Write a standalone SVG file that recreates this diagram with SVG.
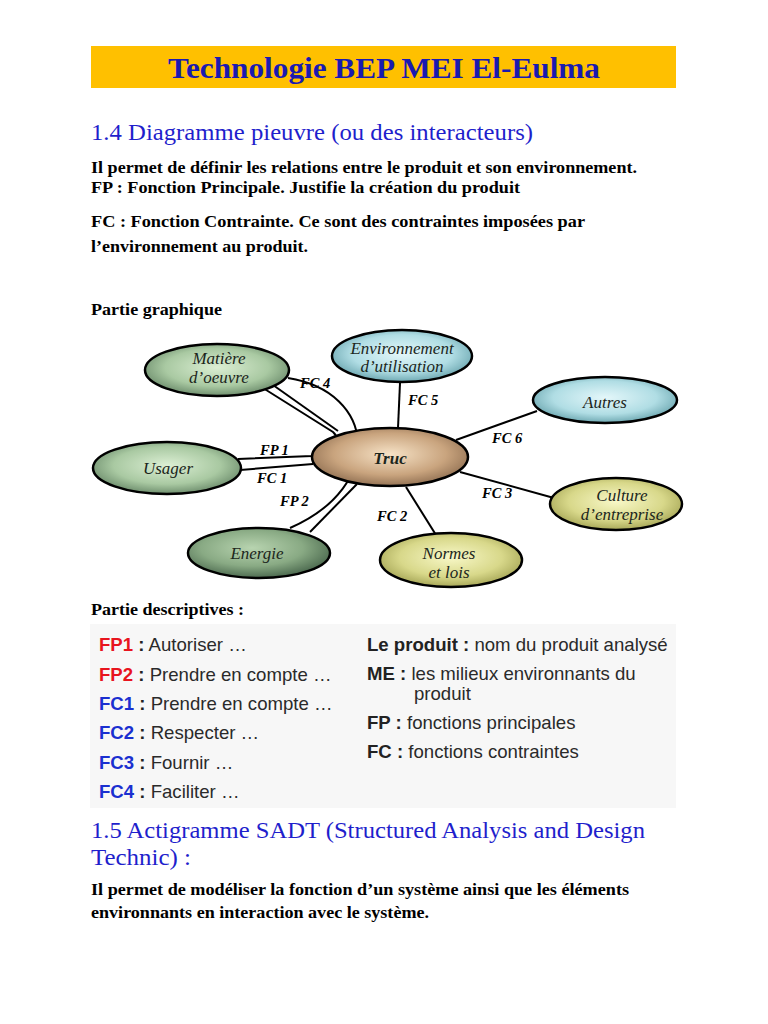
<svg xmlns="http://www.w3.org/2000/svg" width="768" height="1024" viewBox="0 0 768 1024">
<defs>
<radialGradient id="gGreen" cx="0.5" cy="0.45" r="0.6"><stop offset="0" stop-color="#dcefd4"/><stop offset="0.6" stop-color="#a9c9a2"/><stop offset="1" stop-color="#5f7f60"/></radialGradient>
<radialGradient id="gGreenD" cx="0.45" cy="0.4" r="0.6"><stop offset="0" stop-color="#b8d4b0"/><stop offset="0.6" stop-color="#89aa84"/><stop offset="1" stop-color="#4d6b50"/></radialGradient>
<radialGradient id="gTeal" cx="0.5" cy="0.45" r="0.6"><stop offset="0" stop-color="#e4f7fa"/><stop offset="0.6" stop-color="#b0dde4"/><stop offset="1" stop-color="#5c9aa4"/></radialGradient>
<radialGradient id="gBrown" cx="0.5" cy="0.45" r="0.6"><stop offset="0" stop-color="#f6e2c6"/><stop offset="0.6" stop-color="#c9a47e"/><stop offset="1" stop-color="#86664a"/></radialGradient>
<radialGradient id="gOlive" cx="0.5" cy="0.45" r="0.6"><stop offset="0" stop-color="#f8f8c8"/><stop offset="0.6" stop-color="#d8d88a"/><stop offset="1" stop-color="#9c9c4c"/></radialGradient>
</defs>
<style>
.body{font-family:"Liberation Serif",serif;font-weight:bold;font-size:17px;fill:#000}
.h{font-family:"Liberation Serif",serif;font-size:23px;fill:#1f1fcc}
.node{stroke:#000;stroke-width:2.5}
.nl{font-family:"Liberation Serif",serif;font-style:italic;font-size:17px;fill:#1c261c;text-anchor:middle}
.cl{font-family:"Liberation Serif",serif;font-style:italic;font-weight:bold;font-size:14.5px;fill:#000}
.conn{fill:none;stroke:#000;stroke-width:2}
.d{font-family:"Liberation Sans",Arial,sans-serif;font-size:18.6px;fill:#2a2a2a}
.red{fill:#e8141e;font-weight:bold}
.blue{fill:#1a2fd0;font-weight:bold}
.bk{fill:#222;font-weight:bold}
</style>
<rect x="0" y="0" width="768" height="1024" fill="#fff"/>
<rect x="91" y="46" width="585" height="42" fill="#ffc000"/>
<text x="384" y="78" text-anchor="middle" font-family="Liberation Serif,serif" font-weight="bold" font-size="30" fill="#1a1ab0" textLength="432" lengthAdjust="spacingAndGlyphs">Technologie BEP MEI El-Eulma</text>
<text class="h" x="91" y="140" textLength="442" lengthAdjust="spacingAndGlyphs">1.4 Diagramme pieuvre (ou des interacteurs)</text>
<text class="body" x="91" y="173" textLength="546" lengthAdjust="spacingAndGlyphs">Il permet de définir les relations entre le produit et son environnement.</text>
<text class="body" x="91" y="193" textLength="429" lengthAdjust="spacingAndGlyphs">FP : Fonction Principale. Justifie la création du produit</text>
<text class="body" x="91" y="227" textLength="494" lengthAdjust="spacingAndGlyphs">FC : Fonction Contrainte. Ce sont des  contraintes imposées  par</text>
<text class="body" x="91" y="252" textLength="217" lengthAdjust="spacingAndGlyphs">l’environnement au produit.</text>
<text class="body" x="91" y="315" textLength="131" lengthAdjust="spacingAndGlyphs">Partie graphique</text>

<g id="connectors">
<path class="conn" d="M238,459 L312,456 C332,452 342,440 333,432 L263,388"/>
<path class="conn" d="M273,385 L338,431"/>
<path class="conn" d="M240,470 L313,464"/>
<path class="conn" d="M288,378 C376,392 386,486 290,528"/>
<path class="conn" d="M310,532 L357,484"/>
<path class="conn" d="M400,383 L398,428"/>
<path class="conn" d="M456,440 L537,411"/>
<path class="conn" d="M460,472 L554,498"/>
<path class="conn" d="M406,487 L436,535"/>
<text class="cl" x="300" y="388">FC 4</text>
<text class="cl" x="408" y="405">FC 5</text>
<text class="cl" x="492" y="443">FC 6</text>
<text class="cl" x="482" y="498">FC 3</text>
<text class="cl" x="377" y="521">FC 2</text>
<text class="cl" x="260" y="455">FP 1</text>
<text class="cl" x="257" y="483">FC 1</text>
<text class="cl" x="280" y="506">FP 2</text>
</g>

<g id="matiere">
<ellipse class="node" cx="217" cy="370" rx="72" ry="26" fill="url(#gGreen)"/>
<text class="nl" x="219" y="364">Matière</text>
<text class="nl" x="219" y="383">d’oeuvre</text>
</g>
<g id="environnement">
<ellipse class="node" cx="402" cy="356" rx="70" ry="26" fill="url(#gTeal)"/>
<text class="nl" x="402" y="354">Environnement</text>
<text class="nl" x="402" y="372">d’utilisation</text>
</g>
<g id="autres">
<ellipse class="node" cx="605" cy="400" rx="72" ry="23" fill="url(#gTeal)"/>
<text class="nl" x="605" y="408" font-size="21">Autres</text>
</g>
<g id="usager">
<ellipse class="node" cx="167" cy="468" rx="74" ry="26" fill="url(#gGreen)"/>
<text class="nl" x="168" y="474" font-size="21">Usager</text>
</g>
<g id="truc">
<ellipse class="node" cx="390" cy="457" rx="78" ry="29" fill="url(#gBrown)"/>
<text class="nl" x="390" y="464" font-size="20" font-weight="bold" fill="#1a1008">Truc</text>
</g>
<g id="culture">
<ellipse class="node" cx="616" cy="504" rx="66" ry="26" fill="url(#gOlive)"/>
<text class="nl" x="622" y="501">Culture</text>
<text class="nl" x="622" y="520">d’entreprise</text>
</g>
<g id="energie">
<ellipse class="node" cx="259" cy="553" rx="71" ry="25" fill="url(#gGreenD)"/>
<text class="nl" x="257" y="559" font-size="21">Energie</text>
</g>
<g id="normes">
<ellipse class="node" cx="451" cy="560" rx="71" ry="27" fill="url(#gOlive)"/>
<text class="nl" x="449" y="559" font-size="16">Normes</text>
<text class="nl" x="449" y="578" font-size="16">et lois</text>
</g>

<text class="body" x="91" y="615" textLength="153" lengthAdjust="spacingAndGlyphs">Partie descriptives :</text>
<rect x="90" y="624" width="586" height="184" fill="#f7f7f7"/>
<g id="descriptives">
<text class="d" x="99" y="651"><tspan class="red">FP1</tspan><tspan class="bk"> :</tspan> Autoriser …</text>
<text class="d" x="99" y="681"><tspan class="red">FP2</tspan><tspan class="bk"> :</tspan> Prendre en compte …</text>
<text class="d" x="99" y="710"><tspan class="blue">FC1</tspan><tspan class="bk"> :</tspan> Prendre en compte …</text>
<text class="d" x="99" y="739"><tspan class="blue">FC2</tspan><tspan class="bk"> :</tspan> Respecter …</text>
<text class="d" x="99" y="769"><tspan class="blue">FC3</tspan><tspan class="bk"> :</tspan> Fournir …</text>
<text class="d" x="99" y="798"><tspan class="blue">FC4</tspan><tspan class="bk"> :</tspan> Faciliter …</text>
<text class="d" x="367" y="651"><tspan class="bk">Le produit :</tspan> nom du produit analysé</text>
<text class="d" x="367" y="680"><tspan class="bk">ME :</tspan> les milieux environnants du</text>
<text class="d" x="414" y="700">produit</text>
<text class="d" x="367" y="729"><tspan class="bk">FP :</tspan> fonctions principales</text>
<text class="d" x="367" y="758"><tspan class="bk">FC :</tspan> fonctions contraintes</text>
</g>

<text class="h" x="91" y="838" textLength="554" lengthAdjust="spacingAndGlyphs">1.5 Actigramme SADT (Structured Analysis and Design</text>
<text class="h" x="91" y="865" textLength="100" lengthAdjust="spacingAndGlyphs">Technic) :</text>
<text class="body" x="91" y="895" textLength="538" lengthAdjust="spacingAndGlyphs">Il permet de modéliser la fonction d’un système ainsi que les éléments</text>
<text class="body" x="91" y="918" textLength="338" lengthAdjust="spacingAndGlyphs">environnants en interaction avec le système.</text>
</svg>
